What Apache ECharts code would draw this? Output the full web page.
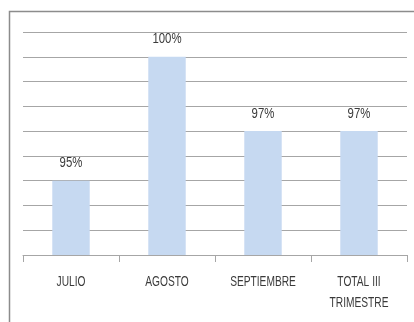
<!DOCTYPE html>
<html>
<head>
<meta charset="utf-8">
<script src="https://cdn.jsdelivr.net/npm/echarts@6/dist/echarts.min.js"></script>
<style>
  html, body { margin: 0; padding: 0; background: #ffffff; }
  #chart { width: 414px; height: 322px; }
</style>
</head>
<body>
<div id="chart"></div>
<script>
// Monthly compliance, third quarter
const categories = ['JULIO', 'AGOSTO', 'SEPTIEMBRE', 'TOTAL III\nTRIMESTRE'];
const values = [95, 100, 97, 97];
const valueLabels = ['95%', '100%', '97%', '97%'];

const FONT_FAMILY = '"Liberation Sans", Arial, sans-serif';
const TEXT = '#3a3a3a';
const LINE = '#a6a6a6';
const Y_MIN = 92;

const chart = echarts.init(document.getElementById('chart'), null, { renderer: 'canvas' });

const frame = {
  type: 'rect',
  shape: { x: 9.5, y: 11.5, width: 420, height: 330 },
  style: { fill: 'none', stroke: '#8c8c8c', lineWidth: 1.5 },
  silent: true,
  z: -10
};

chart.setOption({
  animation: false,
  backgroundColor: '#ffffff',
  graphic: [frame],
  grid: { left: 23, right: 7, top: 32, bottom: 67, containLabel: false },
  xAxis: {
    type: 'category',
    data: categories,
    axisLine: { show: true, lineStyle: { color: LINE, width: 1 } },
    axisTick: { show: true, length: 7, interval: 0, lineStyle: { color: LINE } },
    axisLabel: { show: false }
  },
  yAxis: {
    type: 'value',
    min: Y_MIN,
    max: 101,
    interval: 1,
    axisLine: { show: false },
    axisTick: { show: false },
    axisLabel: { show: false },
    splitLine: { show: true, lineStyle: { color: LINE, width: 1 } }
  },
  series: [{
    type: 'bar',
    data: values,
    barWidth: '39%',
    itemStyle: { color: '#c6d9f1' },
    label: { show: false }
  }]
});

// Condensed text: labels are placed from the axis scales and squeezed horizontally
const texts = [];
const axisY = chart.convertToPixel({ yAxisIndex: 0 }, Y_MIN);
categories.forEach((cat, i) => {
  const cx = chart.convertToPixel({ xAxisIndex: 0 }, i);
  const top = chart.convertToPixel({ seriesIndex: 0 }, [i, values[i]]);
  texts.push({
    type: 'text',
    x: cx,
    y: axisY + 16,
    scaleX: 0.68,
    silent: true,
    style: {
      text: cat,
      fill: TEXT,
      font: '15px ' + FONT_FAMILY,
      lineHeight: 21,
      textAlign: 'center',
      textVerticalAlign: 'top'
    }
  });
  texts.push({
    type: 'text',
    x: top[0],
    y: top[1] - 10,
    scaleX: 0.76,
    silent: true,
    style: {
      text: valueLabels[i],
      fill: TEXT,
      font: '15px ' + FONT_FAMILY,
      textAlign: 'center',
      textVerticalAlign: 'bottom'
    }
  });
});

chart.setOption({ graphic: [frame].concat(texts) }, { replaceMerge: ['graphic'] });
</script>
</body>
</html>
